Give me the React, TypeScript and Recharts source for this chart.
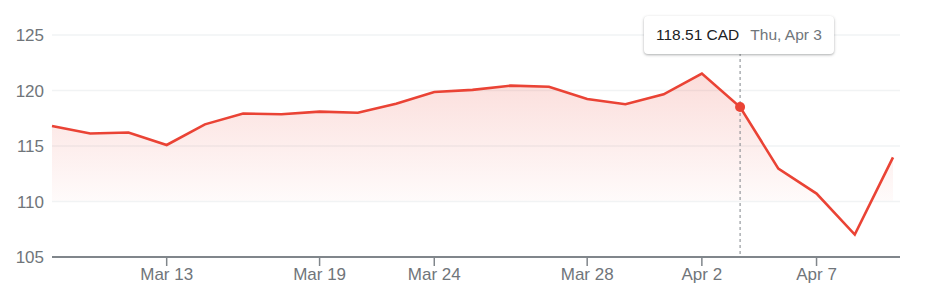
import { AreaChart, Area, XAxis, YAxis, CartesianGrid, Tooltip } from "recharts";

const dates = [
  "Mar 10", "Mar 11", "Mar 12", "Mar 13", "Mar 14", "Mar 17", "Mar 18", "Mar 19",
  "Mar 20", "Mar 21", "Mar 24", "Mar 25", "Mar 26", "Mar 27", "Mar 28", "Mar 31",
  "Apr 1", "Apr 2", "Apr 3", "Apr 4", "Apr 7", "Apr 8", "Apr 9",
];
const weekdays = [
  "Mon", "Tue", "Wed", "Thu", "Fri", "Mon", "Tue", "Wed",
  "Thu", "Fri", "Mon", "Tue", "Wed", "Thu", "Fri", "Mon",
  "Tue", "Wed", "Thu", "Fri", "Mon", "Tue", "Wed",
];
const prices = [
  116.8, 116.12, 116.21, 115.09, 116.95, 117.92, 117.86, 118.1,
  117.99, 118.8, 119.86, 120.06, 120.44, 120.34, 119.23, 118.76,
  119.66, 121.52, 118.51, 112.96, 110.71, 107.02, 113.98,
];
const xTicks = ["Mar 13", "Mar 19", "Mar 24", "Mar 28", "Apr 2", "Apr 7"];
const yTicks = [105, 110, 115, 120, 125];

const RED = "#ea4335";
const FONT = "'Liberation Sans', Arial, sans-serif";

const data = dates.map((d, i) => ({ date: d, day: weekdays[i], price: prices[i] }));

const PriceTip = ({ active, payload }: any) => {
  if (!active || !payload || !payload.length) return null;
  const p = payload[0].payload;
  return (
    <div
      style={{
        background: "#fff",
        borderRadius: 4,
        boxShadow: "0 1px 3px rgba(60,64,67,0.3), 0 1px 2px rgba(60,64,67,0.15)",
        padding: "0 12px",
        height: 38,
        lineHeight: "38px",
        fontFamily: FONT,
        fontSize: 15.5,
        whiteSpace: "nowrap",
      }}
    >
      <span style={{ color: "#202124" }}>{p.price.toFixed(2)} CAD</span>
      <span style={{ color: "#70757a", marginLeft: 11 }}>
        {p.day}, {p.date}
      </span>
    </div>
  );
};

export default function App() {
  return (
    <div style={{ position: "absolute", left: 0, top: 0, width: 944, height: 301, background: "#fff" }}>
      <AreaChart width={944} height={301} data={data} margin={{ top: 35, right: 44, bottom: 0, left: 0 }}>
        <defs>
          <linearGradient id="fillRed" x1="0" y1="0" x2="0" y2="1">
            <stop offset="0%" stopColor={RED} stopOpacity={0.3} />
            <stop offset="69%" stopColor={RED} stopOpacity={0.04} />
            <stop offset="69.5%" stopColor={RED} stopOpacity={0} />
            <stop offset="100%" stopColor={RED} stopOpacity={0} />
          </linearGradient>
        </defs>
        <CartesianGrid vertical={false} stroke="#f1f3f4" strokeWidth={1.5} />
        <XAxis
          dataKey="date"
          ticks={xTicks}
          padding={{ left: 0, right: 7 }}
          height={44}
          tickSize={9}
          tickMargin={2}
          axisLine={{ stroke: "#80868b", strokeWidth: 2 }}
          tickLine={{ stroke: "#80868b", strokeWidth: 1.5 }}
          tick={{ fill: "#70757a", fontSize: 17, fontFamily: FONT }}
        />
        <YAxis
          domain={[105, 125]}
          ticks={yTicks}
          width={52}
          axisLine={false}
          tickLine={false}
          tickSize={6}
          tickMargin={2}
          tick={{ fill: "#70757a", fontSize: 17, fontFamily: FONT }}
        />
        <Tooltip
          active
          defaultIndex={18}
          content={<PriceTip />}
          position={{ x: 644, y: 16 }}
          isAnimationActive={false}
          cursor={{ stroke: "#80868b", strokeWidth: 1, strokeDasharray: "3 3" }}
          wrapperStyle={{ outline: "none" }}
        />
        <Area
          type="linear"
          dataKey="price"
          stroke={RED}
          strokeWidth={2.6}
          fill="url(#fillRed)"
          dot={false}
          activeDot={{ r: 5, fill: RED, stroke: "none" }}
          isAnimationActive={false}
        />
      </AreaChart>
    </div>
  );
}
